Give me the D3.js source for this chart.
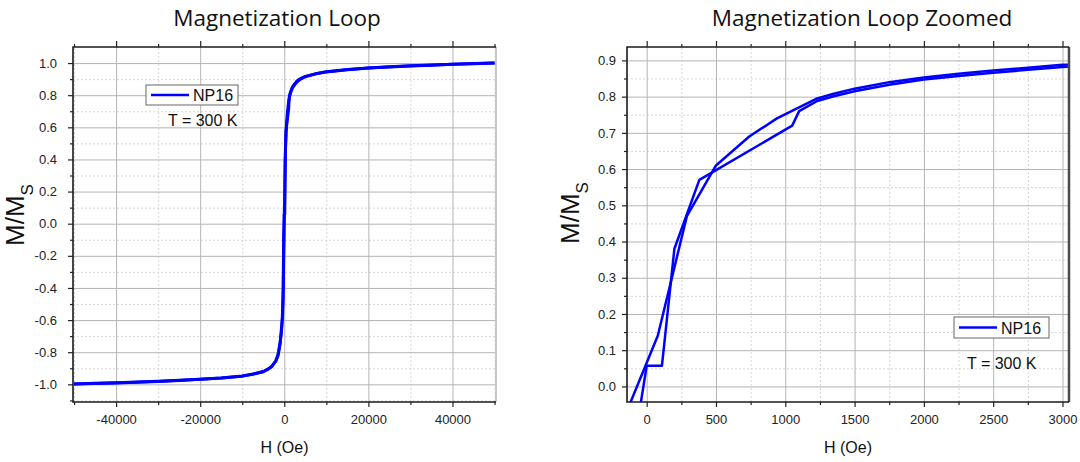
<!DOCTYPE html>
<html lang="en">
<head>
<meta charset="UTF-8" />
<title>Magnetization Loop</title>
<style>
  body { margin: 0; background: #fff; }
  svg { display: block; }
  .tick text { font-family: "Liberation Sans", Arial, sans-serif; font-size: 13px; fill: #222; }
  .tick line { stroke: #222; stroke-width: 1.2px; }
  .title { font-family: "Open Sans", sans-serif; font-size: 22.5px; fill: #111; }
  .axis-label { font-family: "Liberation Sans", Arial, sans-serif; fill: #111; }
  .grid-major line { stroke: #b4b4b4; stroke-width: 1px; }
  .grid-minor line { stroke: #d6d6d6; stroke-width: 1px; stroke-dasharray: 2,2; }
  .legend text { font-family: "Liberation Sans", Arial, sans-serif; font-size: 16px; fill: #111; }
</style>
</head>
<body>
<svg width="1080" height="462"></svg>
<script src="https://cdnjs.cloudflare.com/ajax/libs/d3/7.8.5/d3.min.js"></script>
<script>
// descending branch, +50 kOe -> -50 kOe
const downH = [50000, 45000, 40000, 35000, 30000, 25000, 20000, 15000, 10000, 7500, 5000, 4000, 3500, 3000,
  2750, 2500, 2250, 2000, 1750, 1500, 1350, 1230, 940, 740, 500, 290, 80, -150, -260, -400, -700, -1000,
  -1500, -2000, -3000, -4000, -5000, -7500, -10000, -15000, -20000, -25000, -30000, -35000, -40000, -45000, -50000];
const downM = [1.000, 0.997, 0.993, 0.988, 0.983, 0.977, 0.970, 0.960, 0.946, 0.934, 0.917, 0.905, 0.897, 0.888,
  0.880, 0.872, 0.863, 0.853, 0.840, 0.822, 0.808, 0.795, 0.740, 0.690, 0.610, 0.470, 0.140, -0.075, -0.400, -0.570, -0.680, -0.740,
  -0.820, -0.855, -0.890, -0.908, -0.922, -0.938, -0.949, -0.960, -0.968, -0.975, -0.981, -0.986, -0.990, -0.994, -0.998];

// ascending branch, -50 kOe -> +50 kOe
const upH = [-50000, -45000, -40000, -35000, -30000, -25000, -20000, -15000, -10000, -7500, -5000, -4000, -3000,
  -2000, -1500, -1000, -500, -280, -65, 0, 110, 200, 380, 1050, 1100, 1230, 1350, 1500, 1750, 2000, 2250, 2500,
  2750, 3000, 3500, 4000, 5000, 7500, 10000, 15000, 20000, 25000, 30000, 35000, 40000, 45000, 50000];
const upM = [-0.998, -0.995, -0.991, -0.987, -0.982, -0.976, -0.969, -0.961, -0.948, -0.936, -0.920, -0.907, -0.889,
  -0.852, -0.818, -0.750, -0.600, -0.450, -0.100, 0.057, 0.057, 0.380, 0.570, 0.720, 0.760, 0.788, 0.801, 0.815, 0.833, 0.847, 0.857, 0.866,
  0.874, 0.882, 0.893, 0.902, 0.915, 0.933, 0.945, 0.959, 0.969, 0.976, 0.982, 0.987, 0.992, 0.996, 1.000];

// ticks
const fullXTicks = [-40000, -20000, 0, 20000, 40000];
const fullXMinor = [-50000, -30000, -10000, 10000, 30000, 50000];
const fullYTicks = [-1.0, -0.8, -0.6, -0.4, -0.2, 0.0, 0.2, 0.4, 0.6, 0.8, 1.0];
const fullYMinor = [-1.1, -0.9, -0.7, -0.5, -0.3, -0.1, 0.1, 0.3, 0.5, 0.7, 0.9];
const zoomXTicks = [0, 500, 1000, 1500, 2000, 2500, 3000];
const zoomXMinor = [250, 750, 1250, 1750, 2250, 2750];
const zoomYTicks = [0.0, 0.1, 0.2, 0.3, 0.4, 0.5, 0.6, 0.7, 0.8, 0.9];
const zoomYMinor = [0.05, 0.15, 0.25, 0.35, 0.45, 0.55, 0.65, 0.75, 0.85];

const seriesName = "NP16";
const tempLabel = "T = 300 K";

const svg = d3.select("svg");
const branches = [d3.zip(downH, downM), d3.zip(upH, upM)];

const panels = [
  {
    id: "full", title: "Magnetization Loop", titleX: 277,
    left: 73, right: 496, top: 47, bottom: 402,
    xDomain: [-50250, 50350], yDomain: [-1.11, 1.1],
    xTicks: fullXTicks, xMinor: fullXMinor, yTicks: fullYTicks, yMinor: fullYMinor,
    xFmt: d => String(d), labelPad: 11, lineW: 3,
    rightStroke: "#c8c8c8", rightW: 2,
    ylabX: 24, ylabY: 215,
    legend: { x: 146, y: 85, w: 92, h: 20, textY: 126, textX: 168 }
  },
  {
    id: "zoom", title: "Magnetization Loop Zoomed", titleX: 862,
    left: 627, right: 1069, top: 47, bottom: 402,
    xDomain: [-142, 3047], yDomain: [-0.043, 0.937],
    xTicks: zoomXTicks, xMinor: zoomXMinor, yTicks: zoomYTicks, yMinor: zoomYMinor,
    xFmt: d => String(d), labelPad: 6, lineW: 2.5,
    rightStroke: "#4a4a4a", rightW: 2.5,
    ylabX: 579, ylabY: 213,
    legend: { x: 954, y: 317, w: 95, h: 21, textY: 369, textX: 967 }
  }
];

panels.forEach(p => {
  const x = d3.scaleLinear().domain(p.xDomain).range([p.left, p.right]);
  const y = d3.scaleLinear().domain(p.yDomain).range([p.bottom, p.top]);
  const w = p.right - p.left, h = p.bottom - p.top;
  const g = svg.append("g");

  // grid
  g.append("g").attr("class", "grid-minor")
    .attr("transform", `translate(0,${p.bottom})`)
    .call(d3.axisBottom(x).tickValues(p.xMinor).tickSize(-h).tickFormat(""))
    .call(s => s.select(".domain").remove());
  g.append("g").attr("class", "grid-minor")
    .attr("transform", `translate(${p.left},0)`)
    .call(d3.axisLeft(y).tickValues(p.yMinor).tickSize(-w).tickFormat(""))
    .call(s => s.select(".domain").remove());
  g.append("g").attr("class", "grid-major")
    .attr("transform", `translate(0,${p.bottom})`)
    .call(d3.axisBottom(x).tickValues(p.xTicks).tickSize(-h).tickFormat(""))
    .call(s => s.select(".domain").remove());
  g.append("g").attr("class", "grid-major")
    .attr("transform", `translate(${p.left},0)`)
    .call(d3.axisLeft(y).tickValues(p.yTicks).tickSize(-w).tickFormat(""))
    .call(s => s.select(".domain").remove());
  g.selectAll(".grid-minor line, .grid-major line").style("stroke", null);

  // curves
  const clipId = "clip-" + p.id;
  svg.append("clipPath").attr("id", clipId)
    .append("rect").attr("x", p.left).attr("y", p.top).attr("width", w).attr("height", h);
  const line = d3.line().x(d => x(d[0])).y(d => y(d[1]));
  g.append("g").attr("clip-path", `url(#${clipId})`)
    .selectAll("path").data(branches).join("path")
    .attr("d", line)
    .attr("fill", "none")
    .attr("stroke", "#0000ff")
    .attr("stroke-width", p.lineW)
    .attr("stroke-linejoin", "round");

  // frame
  g.append("line").attr("x1", p.right).attr("x2", p.right).attr("y1", p.top).attr("y2", p.bottom)
    .attr("stroke", p.rightStroke).attr("stroke-width", p.rightW);
  g.append("path")
    .attr("d", `M${p.right},${p.top}H${p.left}V${p.bottom}H${p.right}`)
    .attr("fill", "none").attr("stroke", "#1a1a1a").attr("stroke-width", 1.6);

  // axes
  const strip = s => s.select(".domain").remove();
  g.append("g").attr("transform", `translate(0,${p.bottom})`)
    .call(d3.axisBottom(x).tickValues(p.xTicks).tickSize(5).tickPadding(8).tickFormat(p.xFmt)).call(strip);
  g.append("g").attr("transform", `translate(0,${p.bottom})`)
    .call(d3.axisBottom(x).tickValues(p.xMinor).tickSize(3).tickFormat("")).call(strip);
  g.append("g").attr("transform", `translate(0,${p.top})`)
    .call(d3.axisTop(x).tickValues(p.xTicks).tickSize(6).tickFormat("")).call(strip);
  g.append("g").attr("transform", `translate(0,${p.top})`)
    .call(d3.axisTop(x).tickValues(p.xMinor).tickSize(3).tickFormat("")).call(strip);
  g.append("g").attr("transform", `translate(${p.left},0)`)
    .call(d3.axisLeft(y).tickValues(p.yTicks).tickSize(5).tickPadding(p.labelPad).tickFormat(d => d.toFixed(1))).call(strip);
  g.append("g").attr("transform", `translate(${p.left},0)`)
    .call(d3.axisLeft(y).tickValues(p.yMinor).tickSize(3).tickFormat("")).call(strip);

  // titles and labels
  g.append("text").attr("class", "title").attr("x", p.titleX).attr("y", 26)
    .attr("text-anchor", "middle").text(p.title);
  g.append("text").attr("class", "axis-label").attr("x", (p.left + p.right) / 2).attr("y", 453)
    .attr("text-anchor", "middle").attr("font-size", 16).text("H (Oe)");
  const yl = g.append("text").attr("class", "axis-label")
    .attr("transform", `translate(${p.ylabX},${p.ylabY}) rotate(-90)`)
    .attr("text-anchor", "middle").attr("font-size", 26);
  yl.append("tspan").text("M/M");
  yl.append("tspan").attr("font-size", 17).attr("dy", 9).text("S");

  // legend
  const L = p.legend;
  const lg = g.append("g").attr("class", "legend");
  lg.append("rect").attr("x", L.x).attr("y", L.y).attr("width", L.w).attr("height", L.h)
    .attr("fill", "#fff").attr("stroke", "#666").attr("stroke-width", 1);
  lg.append("line").attr("x1", L.x + 5).attr("x2", L.x + 43)
    .attr("y1", L.y + L.h / 2).attr("y2", L.y + L.h / 2)
    .attr("stroke", "#0000ff").attr("stroke-width", 2.5);
  lg.append("text").attr("x", L.x + 47).attr("y", L.y + L.h / 2 + 6).text(seriesName);
  lg.append("text").attr("x", L.textX).attr("y", L.textY).text(tempLabel);
});
</script>
</body>
</html>
